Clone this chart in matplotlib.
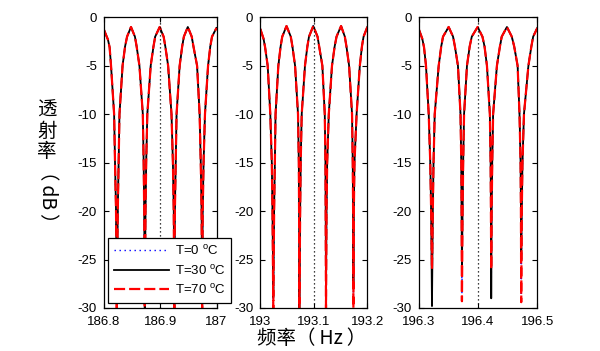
import matplotlib
matplotlib.use('Agg')
import matplotlib.pyplot as plt

plt.rcParams['font.family'] = ['Liberation Sans', 'DejaVu Sans']
plt.rcParams['mathtext.fontset'] = 'custom'
plt.rcParams['mathtext.rm'] = 'Liberation Sans'
plt.rcParams['axes.unicode_minus'] = False

# frequency (Hz) and transmission (dB)
freq_1 = [186.800, 186.807, 186.810, 186.8125, 186.818, 186.8196, 186.8214, 186.8227,
          186.8245, 186.826, 186.8275, 186.833, 186.8375, 186.841, 186.848, 186.855,
          186.858, 186.863, 186.869, 186.8705, 186.8715, 186.8725, 186.8738, 186.875,
          186.877, 186.883, 186.888, 186.891, 186.899, 186.906, 186.909, 186.914,
          186.920, 186.9225, 186.924, 186.925, 186.926, 186.9275, 186.929, 186.9345,
          186.939, 186.942, 186.949, 186.956, 186.959, 186.9655, 186.970, 186.972,
          186.9735, 186.9745, 186.9755, 186.977, 186.9795, 186.985, 186.989, 186.992, 187.000]
db_1 = [-1.3, -2.3, -3.1, -5, -10, -15, -20, -29,
        -20, -15, -10, -5, -3, -2, -1, -2,
        -3, -5, -10, -15, -20, -30, -20, -15,
        -10, -5, -3, -2, -1, -2, -3, -5,
        -10, -15, -20, -30, -20, -15, -10, -5,
        -3, -2, -1, -2, -3, -5, -10, -15,
        -20, -30, -20, -15, -10, -5, -3, -2, -1.1]

freq_2 = [193.000, 193.006, 193.009, 193.0138, 193.0187, 193.0215, 193.0228, 193.0243,
          193.0258, 193.0272, 193.0285, 193.0337, 193.038, 193.041, 193.049, 193.057,
          193.060, 193.065, 193.0705, 193.072, 193.0725, 193.073, 193.0745, 193.0755,
          193.0774, 193.0835, 193.088, 193.091, 193.099, 193.107, 193.110, 193.116,
          193.1205, 193.1218, 193.1222, 193.1228, 193.1238, 193.125, 193.128, 193.134,
          193.139, 193.1425, 193.151, 193.158, 193.161, 193.166, 193.1715, 193.1728,
          193.1735, 193.174, 193.1748, 193.176, 193.180, 193.186, 193.190, 193.193, 193.200]
db_2 = [-1.2, -2.2, -3.1, -5, -10, -15, -20, -29,
        -20, -15, -10, -5, -3, -2, -0.9, -2,
        -3, -5, -10, -15, -20, -30, -20, -15,
        -10, -5, -3, -2, -0.9, -2, -3, -5,
        -10, -15, -20, -30, -20, -15, -10, -5,
        -3, -2, -0.9, -2, -3, -5, -10, -15,
        -20, -29, -20, -15, -10, -5, -3, -2, -1.0]

freq_3 = [196.300, 196.306, 196.309, 196.3123, 196.3169, 196.3195, 196.321, 196.3224,
          196.3238, 196.325, 196.327, 196.3337, 196.338, 196.341, 196.3505, 196.358,
          196.361, 196.3662, 196.3705, 196.3718, 196.3723, 196.3729, 196.374, 196.375,
          196.3765, 196.3814, 196.386, 196.3895, 196.3994, 196.4075, 196.411, 196.4151,
          196.420, 196.4213, 196.4218, 196.4223, 196.423, 196.424, 196.4255, 196.4319,
          196.437, 196.440, 196.4488, 196.457, 196.461, 196.4668, 196.470, 196.4718,
          196.4724, 196.4729, 196.4738, 196.475, 196.4775, 196.485, 196.490, 196.493, 196.500]
db_3 = [-1.2, -2.2, -3.1, -5, -10, -15, -20, -29,
        -20, -15, -10, -5, -3, -2, -1, -2,
        -3, -5, -10, -15, -20, -29, -20, -15,
        -10, -5, -3, -2, -1, -2, -3, -5,
        -10, -15, -20, -29, -20, -15, -10, -5,
        -3, -2, -1, -2, -3, -5, -10, -15,
        -20, -29, -20, -15, -10, -5, -3, -2, -1.1]

# notch depths per temperature (dB)
notch_0 = [[-29.5, -29.5, -29.5, -29.5], [-29.5, -29.8, -29.8, -29.0], [-29.0, -28.5, -28.8, -28.5]]
notch_30 = [[-29.0, -30.0, -30.0, -30.0], [-28.9, -30.0, -29.5, -27.5], [-29.8, -25.6, -29.0, -25.0]]
notch_70 = [[-30.0, -30.0, -30.0, -30.0], [-30.0, -30.0, -30.0, -30.0], [-26.0, -29.3, -26.0, -29.4]]

xlims = [(186.8, 187.0), (193.0, 193.2), (196.3, 196.5)]
xticks = [[186.8, 186.9, 187.0], [193.0, 193.1, 193.2], [196.3, 196.4, 196.5]]
xticklabels = [['186.8', '186.9', '187'], ['193', '193.1', '193.2'], ['196.3', '196.4', '196.5']]
center_freqs = [186.9, 193.1, 196.4]
yticks = [-30, -25, -20, -15, -10, -5, 0]
labels = ['T=0 $^\\mathrm{o}$C', 'T=30 $^\\mathrm{o}$C', 'T=70 $^\\mathrm{o}$C']


def with_notches(db, depths):
    out = list(db)
    idx = [i for i, v in enumerate(db) if v <= -25]
    for i, d in zip(idx, depths):
        out[i] = d
    return out


W, H = 600, 351
fig = plt.figure(figsize=(6, 3.51), dpi=100)

# axes boxes in pixels: left, right
boxes = [(104, 216.5), (260.3, 367.3), (418.7, 537.3)]
top, bottom = 17.3, 308

freqs = [freq_1, freq_2, freq_3]
dbs = [db_1, db_2, db_3]

for k in range(3):
    l, r = boxes[k]
    ax = fig.add_axes([l / W, 1 - bottom / H, (r - l) / W, (bottom - top) / H])
    f = freqs[k]
    ax.plot(f, with_notches(dbs[k], notch_0[k]), color='blue', ls=(0, (1, 2.6)), lw=1.0, label=labels[0])
    ax.plot(f, with_notches(dbs[k], notch_30[k]), color='black', ls='-', lw=1.3, label=labels[1])
    ax.plot(f, with_notches(dbs[k], notch_70[k]), color='red', ls=(0, (5.0, 1.8)), lw=1.6, label=labels[2])
    ax.axvline(center_freqs[k], color='black', ls=(0, (1, 2.2)), lw=0.9)
    ax.set_xlim(*xlims[k])
    ax.set_ylim(-30, 0)
    ax.set_xticks(xticks[k])
    ax.set_xticklabels(xticklabels[k])
    ax.set_yticks(yticks)
    ax.tick_params(direction='in', top=True, right=True, length=3.5, width=0.8,
                   labelsize=9.5)
    ax.tick_params(axis='x', pad=6)
    ax.tick_params(axis='y', pad=5)
    for s in ax.spines.values():
        s.set_linewidth(0.9)
    if k == 0:
        leg = ax.legend(loc='lower left', bbox_to_anchor=(108 / W, 1 - 303 / H),
                        bbox_transform=fig.transFigure, borderaxespad=0,
                        fontsize=9.5, handlelength=4.2, fancybox=False,
                        framealpha=1, edgecolor='black', labelspacing=0.42,
                        borderpad=0.45, handletextpad=0.4)
        leg.get_frame().set_linewidth(0.9)
        leg.set_zorder(5)

cjk = ['Noto Sans CJK SC', 'DejaVu Sans']
fig.text(47 / W, 1 - 131 / H, '透\n射\n率', family=cjk, fontsize=14,
         ha='center', va='center', linespacing=1.0)
fig.text(47 / W, 1 - 197 / H, '（\u2009dB\u2009）', family=cjk, fontsize=14,
         ha='center', va='center', rotation=-90)
fig.text(312 / W, 1 - 339 / H, '频率（\u2009Hz\u2009）', family=cjk, fontsize=14,
         ha='center', va='center')

fig.savefig('out.png', dpi=100)
